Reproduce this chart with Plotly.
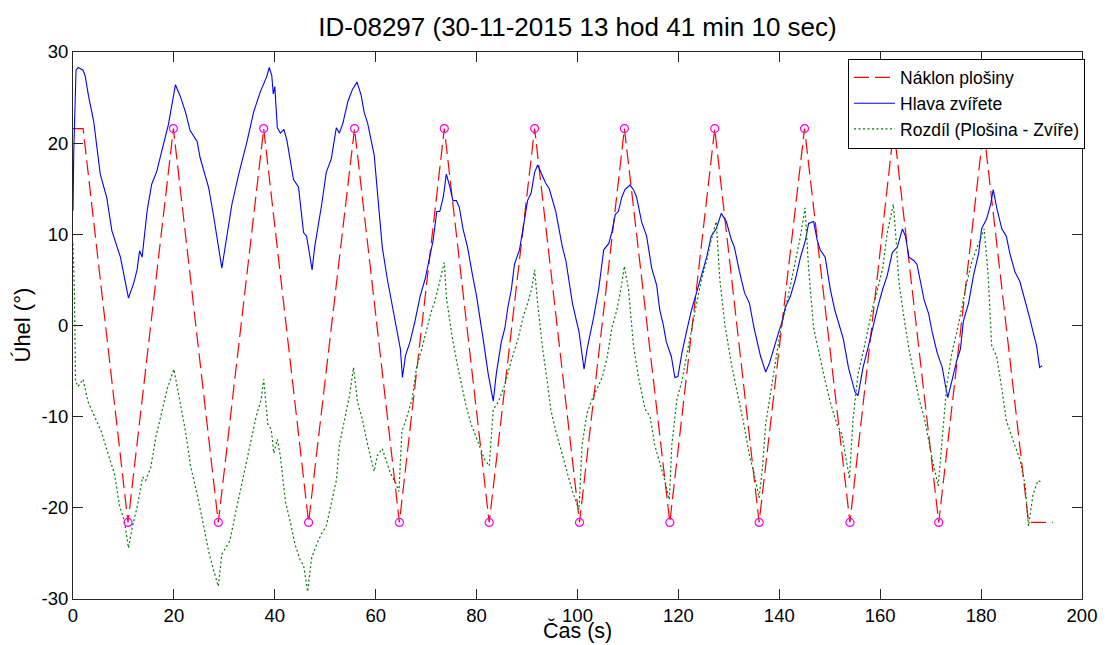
import plotly.graph_objects as go

# Platform tilt: triangular motion between +/-21.6 deg (vertex times in s)
tilt_t = [0.0, 2.0, 10.9, 19.9, 28.8, 37.8, 46.7, 55.8, 64.7, 73.6, 82.5, 91.5,
          100.4, 109.3, 118.3, 127.2, 136.0, 145.0, 154.0, 162.7, 171.6, 180.5,
          189.4, 194.2]
tilt_v = [21.6, 21.6, -21.6, 21.6, -21.6, 21.6, -21.6, 21.6, -21.6, 21.6, -21.6, 21.6,
          -21.6, 21.6, -21.6, 21.6, -21.6, 21.6, -21.6, 21.6, -21.6, 21.6,
          -21.6, -21.6]

# Turning points of the platform that are marked with circles
turn_t = tilt_t[2:22]
turn_v = tilt_v[2:22]

# Head angle of the animal
head_t = [0.0, 0.15, 0.6, 1.0, 2.0, 2.4, 3.1, 4.1, 5.4, 6.7, 7.7, 8.4, 9.4, 11.0, 12.0,
          12.7, 13.2, 13.7, 14.0, 14.7, 15.6, 16.6, 17.9, 18.9, 20.3, 21.3, 22.3, 23.2,
          24.6, 25.2, 26.9, 27.9, 29.5, 30.5, 31.5, 32.8, 34.5, 35.8, 37.1, 38.4, 38.9,
          39.4, 39.7, 40.0, 40.5, 41.1, 41.8, 42.4, 43.1, 43.7, 44.7, 45.7, 46.3, 47.4,
          47.9, 48.6, 49.3, 50.2, 51.2, 52.2, 52.8, 53.5, 54.5, 55.4, 56.3, 57.1, 57.7,
          58.4, 59.7, 60.3, 61.3, 62.3, 63.9, 64.9, 65.3, 65.9, 66.8, 67.8, 68.8, 69.8,
          70.7, 71.4, 72.1, 72.7, 73.4, 74.0, 74.7, 75.3, 76.0, 76.6, 77.3, 78.2, 79.2,
          80.0, 81.3, 82.3, 83.3, 83.9, 84.9, 85.6, 86.2, 86.9, 87.5, 88.5, 89.2, 90.1,
          90.8, 91.5, 92.1, 92.8, 93.7, 94.4, 95.1, 95.7, 97.0, 97.7, 99.0, 100.3, 101.3,
          101.9, 102.6, 103.2, 104.2, 105.2, 106.2, 106.8, 107.5, 108.1, 108.8, 109.4,
          110.4, 111.1, 111.7, 112.7, 113.7, 114.7, 115.7, 116.3, 117.0, 117.6, 118.6,
          119.3, 119.9, 120.7, 121.6, 122.6, 123.6, 124.6, 125.6, 126.5, 127.5, 128.5,
          129.5, 130.5, 131.1, 132.1, 133.1, 134.1, 135.0, 136.3, 137.3, 138.0, 139.0,
          139.9, 140.6, 141.2, 142.2, 143.2, 144.2, 145.2, 145.8, 146.8, 147.5, 148.1,
          149.1, 150.1, 151.0, 152.0, 152.7, 153.7, 155.0, 155.6, 156.6, 157.6, 158.5,
          159.5, 160.5, 161.4, 162.4, 163.4, 164.4, 165.0, 165.7, 166.7, 167.3, 168.0,
          168.7, 169.6, 170.3, 171.3, 172.3, 172.9, 173.4, 174.2, 175.2, 175.9, 176.5,
          177.5, 178.5, 179.5, 180.1, 181.1, 181.9, 182.4, 183.1, 184.1, 185.0, 185.7,
          186.7, 187.7, 188.3, 189.0, 189.6, 190.3, 191.0, 191.6, 192.1]
head_v = [12.6, 19.0, 28.0, 28.3, 28.0, 27.4, 25.1, 22.4, 16.6, 14.0, 10.4, 9.3, 7.5, 3.0, 4.6,
          6.1, 8.2, 7.5, 9.0, 12.6, 15.5, 16.9, 19.8, 22.0, 26.4, 25.1, 23.4, 21.4,
          20.2, 18.4, 15.1, 11.9, 6.3, 9.6, 13.3, 16.5, 20.2, 23.4, 25.6, 27.3, 28.3,
          27.4, 25.4, 26.2, 21.7, 21.1, 21.5, 20.3, 17.9, 16.0, 15.2, 10.2, 9.8, 6.1,
          8.6, 10.8, 13.3, 16.8, 18.3, 21.7, 21.1, 22.2, 24.6, 25.9, 26.7, 25.3, 23.4,
          22.2, 18.7, 14.9, 8.6, 5.1, 0.5, -2.6, -5.7, -3.3, -1.8, 0.5, 3.2, 5.1,
          7.5, 9.4, 12.5, 12.5, 14.1, 16.6, 15.2, 13.7, 13.7, 12.9, 10.6, 8.6, 5.5,
          3.2, -1.5, -5.3, -8.3, -5.3, -1.8, -0.3, 2.0, 4.0, 6.7, 8.3, 10.6, 13.7,
          14.5, 16.8, 17.6, 16.8, 15.6, 15.0, 13.7, 12.5, 8.6, 7.1, 2.4, -0.7, -4.8,
          -2.6, -0.7, 0.9, 4.0, 8.3, 9.0, 10.2, 12.2, 12.5, 14.1, 14.9,
          15.4, 14.9, 14.1, 11.4, 9.8, 6.3, 4.4, 1.7, 0.1, -1.8, -3.4,
          -5.7, -5.6, -3.0, -0.7, 1.7, 3.6, 5.5, 7.5, 9.8, 10.6, 12.3,
          11.4, 9.4, 8.6, 5.9, 3.6, 2.4, -0.3, -3.4, -5.1, -4.2, -2.2,
          -0.7, 0.5, 2.0, 3.2, 5.1, 7.5, 9.4, 11.2, 11.4, 9.4, 8.3,
          7.5, 4.0, 1.7, -0.1, -1.5, -4.6, -7.3, -7.7, -4.6, -2.4, -0.3,
          2.0, 4.0, 5.5, 8.0, 8.6, 10.6, 9.8, 7.5, 7.1, 6.7, 4.8,
          2.8, 1.3, -0.7, -3.0, -4.6, -6.5, -7.9, -6.1, -3.8, -2.6, 0.5,
          2.4, 5.5, 7.9, 10.6, 11.7, 13.3, 14.9, 12.9, 10.6, 9.8, 7.9,
          5.9, 4.8, 3.6, 2.4, 0.9, -0.7, -2.2, -4.6, -4.4]

# Difference platform minus animal
diff_t = [0.0, 0.3, 0.5, 1.0, 2.0, 3.0, 4.6, 5.6, 7.3, 8.2, 9.2, 10.2, 11.0, 11.8, 12.8,
          13.8, 14.4, 15.4, 16.4, 17.4, 18.7, 20.0, 21.0, 22.3, 23.3, 24.6, 25.9, 26.9,
          27.8, 28.8, 29.5, 31.1, 32.4, 33.7, 35.0, 36.3, 37.3, 37.8, 38.6, 39.3, 39.8,
          40.5, 41.1, 42.1, 43.1, 44.0, 45.0, 45.7, 46.5, 47.3, 48.3, 49.3, 50.2, 51.2,
          52.2, 52.8, 54.1, 54.8, 55.6, 56.4, 57.4, 58.4, 59.7, 60.3, 61.3, 62.0, 62.9,
          63.9, 64.6, 65.2, 66.2, 67.2, 68.1, 69.1, 70.1, 71.1, 71.7, 72.7, 73.6, 74.0,
          75.0, 76.0, 76.9, 77.9, 78.9, 79.9, 80.8, 81.6, 82.5, 83.3, 84.3, 85.6, 86.9,
          88.2, 89.2, 90.1, 90.9, 91.5, 92.1, 93.1, 94.1, 94.7, 95.7, 96.7, 98.0, 99.0,
          100.3, 100.9, 101.9, 102.9, 103.9, 104.9, 105.9, 106.8, 107.8, 108.6, 109.3,
          110.1, 111.1, 112.1, 113.4, 114.4, 115.3, 116.3, 117.3, 118.2, 118.7, 119.7,
          120.7, 121.6, 122.6, 123.6, 124.6, 125.6, 126.5, 127.5, 128.2, 129.2, 130.5,
          131.8, 133.1, 134.1, 135.0, 136.0, 136.7, 137.3, 138.3, 139.3, 140.3, 141.2,
          142.2, 143.2, 144.2, 145.1, 145.8, 146.8, 148.1, 149.1, 150.1, 151.4, 152.4,
          153.9, 154.6, 155.6, 156.6, 157.6, 158.5, 159.5, 160.5, 161.4, 162.1, 162.6,
          163.1, 163.7, 164.7, 165.7, 166.7, 167.7, 168.7, 169.6, 170.6, 171.5, 172.3,
          173.2, 174.2, 175.2, 176.2, 177.2, 178.2, 179.1, 179.8, 180.6, 181.4, 182.1,
          183.1, 184.1, 185.0, 186.4, 187.7, 188.7, 189.4, 190.3, 191.3, 191.9]
diff_v = [9.0, 3.2, -6.1, -6.7, -5.9, -8.4, -10.4, -11.6, -14.7, -16.2, -19.7, -21.5, -24.4, -22.0, -19.7,
          -16.6, -17.0, -15.6, -12.3, -10.0, -6.9, -4.8, -7.7, -11.6, -15.4, -18.5, -22.0, -24.8,
          -26.7, -28.6, -25.1, -23.6, -20.1, -16.6, -13.1, -10.0, -8.1, -5.9, -10.8, -11.4, -14.0,
          -12.5, -14.3, -19.3, -21.6, -24.0, -25.7, -26.3, -29.2, -25.5, -24.0, -22.8, -22.0, -19.3,
          -17.0, -13.1, -9.6, -7.7, -4.6, -8.4, -10.4, -13.1, -16.0, -14.3, -13.5, -14.7, -16.2,
          -17.2, -18.2, -11.6, -10.0, -8.1, -4.6, -2.6, -0.3, 1.7, 2.6, 4.8, 6.9, 3.2,
          -0.7, -3.8, -6.1, -8.8, -10.8, -12.3, -13.5, -14.7, -15.4, -9.2, -8.4, -6.5, -3.8,
          -1.5, 0.9, 2.4, 4.0, 6.1, 2.4, -2.6, -6.5, -9.2, -11.6, -13.5, -16.2, -18.2,
          -20.2, -13.1, -9.6, -8.1, -6.9, -5.7, -3.4, -0.3, 1.7, 4.0, 6.5,
          4.0, -2.2, -5.7, -9.2, -10.0, -13.1, -15.0, -17.0, -19.1, -13.1, -8.1,
          -6.1, -3.4, -0.3, 2.4, 5.1, 7.1, 9.4, 11.4, 5.1, 0.1, -4.2,
          -7.7, -11.2, -14.3, -16.2, -18.9, -15.4, -10.8, -7.3, -3.8, -0.3, 1.7,
          4.4, 7.1, 9.8, 12.9, 6.3, -0.3, -3.8, -6.1, -8.4, -10.8, -11.9,
          -16.8, -10.4, -5.3, -3.0, -0.2, 2.0, 4.0, 6.3, 10.2, 12.1, 13.3,
          9.8, 4.8, 0.9, -2.6, -5.3, -8.1, -10.0, -12.7, -15.4, -17.6, -12.3,
          -6.5, -3.0, -0.7, 2.0, 4.8, 7.1, 8.3, 9.4, 10.6, 5.5, -2.2,
          -3.4, -6.9, -10.4, -12.7, -14.7, -17.4, -22.0, -18.5, -17.0, -17.2]

x_ticks = list(range(0, 201, 20))
y_ticks = list(range(-30, 31, 10))
# plain hyphen for negative tick labels
y_tick_text = [str(v) for v in y_ticks]

FONT = "Liberation Sans, Arial, Helvetica, sans-serif"
AXIS_COLOR = "#262626"

fig = go.Figure()
fig.add_trace(go.Scatter(
    x=tilt_t, y=tilt_v, mode="lines", name="Náklon plošiny",
    line=dict(color="#ff0000", width=1.2, dash="15px,6px"),
))
fig.add_trace(go.Scatter(
    x=head_t, y=head_v, mode="lines", name="Hlava zvířete",
    line=dict(color="#0000ff", width=1.1),
))
fig.add_trace(go.Scatter(
    x=diff_t, y=diff_v, mode="lines", name="Rozdíl (Plošina - Zvíře)",
    line=dict(color="#007a00", width=1.2, dash="2px,2.5px"),
))
fig.add_trace(go.Scatter(
    x=turn_t, y=turn_v, mode="markers", showlegend=False,
    marker=dict(symbol="circle-open", size=8, color="#ff00ff",
                line=dict(width=1.2, color="#ff00ff")),
))

axis_common = dict(
    showline=True, linecolor=AXIS_COLOR, linewidth=1, mirror="ticks",
    ticks="inside", ticklen=10, tickcolor=AXIS_COLOR, tickwidth=1,
    showgrid=False, zeroline=False,
    tickfont=dict(family=FONT, size=18.5, color="#000000"),
)

fig.update_layout(
    width=1109, height=645,
    margin=dict(l=73, r=17, t=52, b=46),
    paper_bgcolor="white", plot_bgcolor="white",
    font=dict(family=FONT, color="#000000"),
    title=dict(
        text="ID-08297 (30-11-2015 13 hod 41 min 10 sec)",
        font=dict(family=FONT, size=26, color="#000000"),
        x=0.5, xref="paper", xanchor="center",
        y=1 - 26.5 / 645, yref="container", yanchor="middle",
    ),
    xaxis=dict(range=[0, 200], tickvals=x_ticks, **axis_common),
    yaxis=dict(range=[-30, 30], tickvals=y_ticks, ticktext=y_tick_text, **axis_common),
    legend=dict(
        x=1.003, y=0.988, xanchor="right", yanchor="top",
        bgcolor="white", bordercolor="#000000", borderwidth=1,
        font=dict(family=FONT, size=17.5, color="#000000"),
        tracegroupgap=0, itemwidth=41,
    ),
    annotations=[
        dict(text="Čas (s)", xref="paper", yref="paper", x=0.5, y=0,
             xanchor="center", yanchor="bottom", yshift=-46, showarrow=False,
             font=dict(family=FONT, size=21.5, color="#000000")),
        dict(text="Úhel (°)", xref="paper", yref="paper", x=0, y=0.5,
             xanchor="center", yanchor="middle", xshift=-51, textangle=-90,
             showarrow=False,
             font=dict(family=FONT, size=22, color="#000000")),
    ],
)

fig.write_html("out.html")
